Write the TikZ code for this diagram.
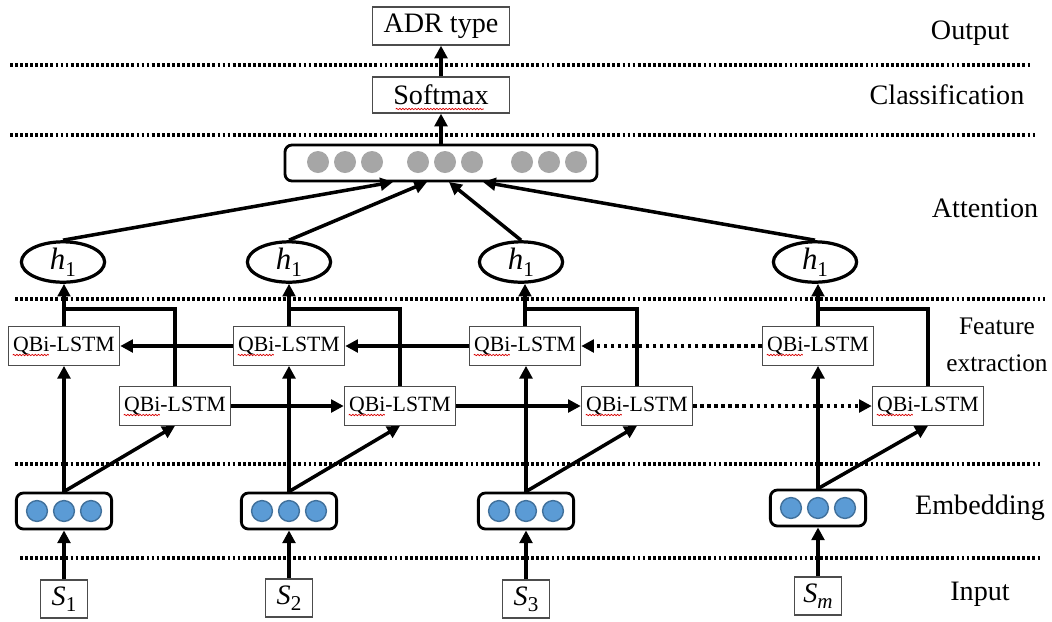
\documentclass[tikz,border=0pt]{standalone}
\usepackage{fontspec}
\setmainfont{Liberation Serif}
\usetikzlibrary{shapes.geometric,arrows.meta,calc,decorations.pathmorphing}
\definecolor{dotgray}{RGB}{166,166,166}
\definecolor{dotblue}{RGB}{91,155,213}
\definecolor{dotblueb}{RGB}{65,113,156}
\newcommand\hlab{{\itshape h}\raisebox{-0.5ex}{\fontsize{15}{15}\selectfont 1}}
\newcommand\slab[1]{{\itshape S}\raisebox{-0.45ex}{\fontsize{15}{15}\selectfont #1}}
\begin{document}
\begin{tikzpicture}[x=0.025cm,y=-0.025cm,
  conn/.style={line width=2.5pt, -{Triangle[length=9pt,width=9pt]}},
  dconn/.style={conn, dash pattern=on 2.5pt off 2.5pt},
  wire/.style={line width=2.5pt},
  sep/.style={line width=2.2pt, dash pattern=on 2pt off 1.6pt},
  squig/.style={red!85!black, line width=0.5pt, decorate, decoration={snake, amplitude=0.5pt, segment length=2.2pt}},
  plainbox/.style={draw=black!70, line width=0.9pt, rectangle, inner sep=0pt, fill=white},
  topbox/.style={plainbox, minimum width=3.43cm, minimum height=0.95cm, font=\fontsize{20}{24}\selectfont},
  lstm/.style={plainbox, minimum width=2.78cm, minimum height=0.96cm, font=\fontsize{15.5}{18}\selectfont},
  inbox/.style={plainbox, minimum width=1.18cm, minimum height=0.95cm, font=\fontsize{20}{24}\selectfont},
  rbox/.style={draw=black, line width=2pt, rounded corners=5pt, rectangle, fill=white, inner sep=0pt},
  attbox/.style={rbox, minimum width=7.8cm, minimum height=0.9cm},
  embbox/.style={rbox, minimum width=2.38cm, minimum height=0.9cm},
  hnode/.style={draw=black, line width=2.3pt, ellipse, minimum width=2.08cm, minimum height=0.88cm, inner sep=0pt, font=\fontsize{22}{24}\selectfont},
  side/.style={font=\fontsize{20}{24}\selectfont, inner sep=0pt},
  gdot/.style={fill=dotgray},
  bdot/.style={fill=dotblue, draw=dotblueb, line width=1pt}
]
\useasboundingbox (0,0) rectangle (1052,621);

% separators
\draw[sep] (10,65) -- (1030,65);
\draw[sep] (10,135) -- (1035,135);
\draw[sep] (15,299) -- (1045,299);
\draw[sep] (15,464) -- (1040,464);
\draw[sep] (20,558) -- (1040,558);

% side labels
\node[side] (lout) at (970,33) {Output};
\node[side] (lcls) at (947,95) {Classification};
\node[side] (latt) at (985,208) {Attention};
\node[side, font=\fontsize{18}{26}\selectfont, align=center] (lfe) at (997,345) {Feature\\extraction};
\node[side] (lemb) at (980,508) {Embedding};
\node[side] (lin) at (980,594) {Input};

% top
\node[topbox] (adr) at (441,26) {ADR type};
\node[topbox, minimum height=0.9cm] (soft) at (441,95) {Softmax};
\draw[squig] ($(soft.west)+(24,14)$) -- ++(88,0);
\node[attbox] (att) at (441,163) {};
\foreach \x in {318,345,372,418,445,472,522,549,576}
  \fill[gdot] (\x,162) circle[radius=0.275cm];
\draw[conn] (att.north) -- (soft.south);
\draw[conn] (soft.north) -- (adr.south);

% h nodes
\node[hnode] (h1) at (63,262) {\hlab};
\node[hnode] (h2) at (289,262) {\hlab};
\node[hnode] (h3) at (521,262) {\hlab};
\node[hnode] (h4) at (815,262) {\hlab};

\coordinate (t1) at (393,182);
\coordinate (t2) at (427,182);
\coordinate (t3) at (449,182);
\coordinate (t4) at (483,182);
\draw[conn] (h1.north) -- (t1);
\draw[conn] (h2.north) -- (t2);
\draw[conn] (h3.north) -- (t3);
\draw[conn] (h4.north) -- (t4);

% LSTM rows
\node[lstm] (u1) at (64,346) {QBi-LSTM};
\node[lstm] (u2) at (289,346) {QBi-LSTM};
\node[lstm] (u3) at (525,346) {QBi-LSTM};
\node[lstm] (u4) at (818,346) {QBi-LSTM};
\node[lstm] (l1) at (175,406) {QBi-LSTM};
\node[lstm] (l2) at (400,406) {QBi-LSTM};
\node[lstm] (l3) at (637,406) {QBi-LSTM};
\node[lstm] (l4) at (928,406) {QBi-LSTM};
\foreach \b in {u1,u2,u3,u4,l1,l2,l3,l4}
  \draw[squig] ($(\b.west)+(5,9)$) -- ++(36,0);

\coordinate (j1) at (64,309);
\coordinate (j2) at (289,309);
\coordinate (j3) at (525,309);
\coordinate (j4) at (818,309);
\draw[wire] (l1.north) |- (j1);
\draw[wire] (l2.north) |- (j2);
\draw[wire] (l3.north) |- (j3);
\draw[wire] (l4.north) |- (j4);

\draw[conn] (u1.north) -- (u1.north |- h1.south);
\draw[conn] (u2.north) -- (u2.north |- h2.south);
\draw[conn] (u3.north) -- (u3.north |- h3.south);
\draw[conn] (u4.north) -- (u4.north |- h4.south);

\draw[conn] (u2.west) -- (u1.east);
\draw[conn] (u3.west) -- (u2.east);
\draw[dconn] (u4.west) -- (u3.east);
\draw[conn] (l1.east) -- (l2.west);
\draw[conn] (l2.east) -- (l3.west);
\draw[dconn] (l3.east) -- (l4.west);

% embedding
\node[embbox] (e1) at (64,511) {};
\node[embbox] (e2) at (289,511) {};
\node[embbox] (e3) at (526,511) {};
\node[embbox] (e4) at (818,508) {};
\foreach \e in {e1,e2,e3,e4}
  \foreach \d in {-27,0,27}
    \path[bdot] ([xshift=\d*0.025cm]\e.center) circle[radius=0.26cm];

\foreach \i in {1,2,3,4} {
  \draw[conn] (e\i.north) -- (e\i.north |- u\i.south);
  \draw[conn] (e\i.north) -- (l\i.south);
}

% inputs
\node[inbox] (s1) at (64,599) {\slab{1}};
\node[inbox] (s2) at (289,598) {\slab{2}};
\node[inbox] (s3) at (526,599) {\slab{3}};
\node[inbox] (s4) at (818,596) {\slab{\itshape m}};
\foreach \i in {1,2,3,4}
  \draw[conn] (s\i.north) -- (e\i.south);
\end{tikzpicture}
\end{document}
